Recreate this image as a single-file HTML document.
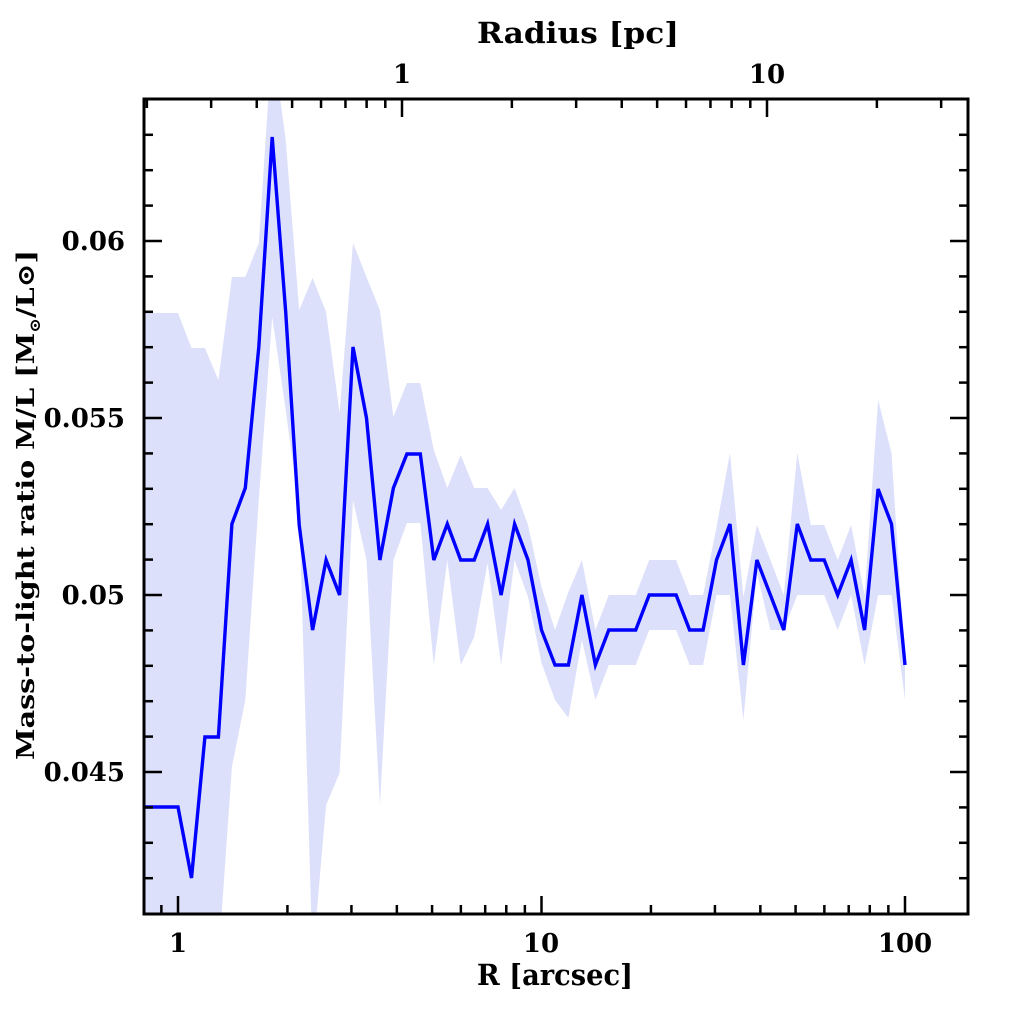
<!DOCTYPE html>
<html><head><meta charset="utf-8"><style>html,body{margin:0;padding:0;background:#fff}svg{display:block}
text{font-family:"DejaVu Serif","Liberation Serif",serif;font-weight:bold;fill:#000}</style></head>
<body>
<svg id="s" width="1024" height="1024" viewBox="0 0 1024 1024" xmlns="http://www.w3.org/2000/svg">
<defs><clipPath id="c"><rect x="144" y="99" width="824" height="815"/></clipPath></defs>
<g clip-path="url(#c)">
<polygon id="band" fill="#dde0fa"/>
<polyline id="line" fill="none" stroke="#0000ff" stroke-width="3.4" stroke-linejoin="miter"/>
</g>
<g id="ticks" stroke="#000" stroke-width="2.5"></g>
<rect x="144" y="99" width="824" height="815" fill="none" stroke="#000" stroke-width="3"/>
<g font-size="26">
<text x="125" y="250" text-anchor="end">0.06</text>
<text x="125" y="427" text-anchor="end">0.055</text>
<text x="125" y="604" text-anchor="end">0.05</text>
<text x="125" y="781" text-anchor="end">0.045</text>
<text x="178" y="952" text-anchor="middle">1</text>
<text x="541" y="952" text-anchor="middle">10</text>
<text x="905" y="952" text-anchor="middle">100</text>
<text x="402" y="83" text-anchor="middle">1</text>
<text x="767" y="83" text-anchor="middle">10</text>
<text x="477" y="43" textLength="202" lengthAdjust="spacingAndGlyphs" font-size="29">Radius [pc]</text>
<text x="477" y="985" textLength="156" lengthAdjust="spacingAndGlyphs" font-size="29">R [arcsec]</text>
<text transform="translate(34,505) rotate(-90)" text-anchor="middle" font-size="24" textLength="510" lengthAdjust="spacingAndGlyphs">Mass-to-light ratio M/L [M<tspan font-size="15" dy="6">⊙</tspan><tspan dy="-6">/L⊙]</tspan></text>
</g>
</svg>
<script>
var ly=[807,878,737,737,524,488,347,137,312,525,630,560,595,347,418,560,488,454,454,560,524,560,560,524,595,524,560,630,665,665,595,665,630,630,630,595,595,595,630,630,560,524,665,560,595,630,524,560,560,595,560,630,489,524,665];
var up=[313,348,348,380,277,277,243,40,140,310,278,312,413,243,277,310,417,383,383,450,488,455,488,488,510,488,525,587,630,592,560,630,595,595,595,560,560,560,595,595,527,453,597,525,560,595,453,525,525,560,525,595,400,453,663];
var lo=[960,960,960,960,767,700,500,317,410,510,960,805,773,500,560,805,560,523,523,665,560,665,637,563,665,560,597,663,700,718,640,700,665,665,665,630,630,630,665,665,595,595,720,573,630,630,595,595,595,630,595,665,595,595,700];
function X(k){return 178+13.463*k}
var L=["144,807"],U=["144,313"],D=["144,960"];
for(var k=0;k<55;k++){L.push(X(k).toFixed(1)+","+ly[k]);U.push(X(k).toFixed(1)+","+up[k]);D.push(X(k).toFixed(1)+","+lo[k]);}
document.getElementById("line").setAttribute("points",L.join(" "));
document.getElementById("band").setAttribute("points",U.concat(D.reverse()).join(" "));
var t="";
function ln(a,b,c,d){t+='<line x1="'+a+'" y1="'+b+'" x2="'+c+'" y2="'+d+'"/>';}
for(var v=41;v<=64;v++){var y=595-(v-50)*35.4;if(y<100||y>913)continue;var M=(v%5==0)?18:9;ln(144,y,144+M,y);ln(968,y,968-M,y);}
for(var e=-1;e<=2;e++)for(var m=1;m<10;m++){var x=178+363.5*(e+Math.log10(m));if(x<146||x>966)continue;var M=(m==1)?18:9;ln(x,914,x,914-M);}
for(var e=-1;e<=1;e++)for(var m=1;m<10;m++){var x=402+365*(e+Math.log10(m));if(x<146||x>966)continue;var M=(m==1)?18:9;ln(x,99,x,99+M);}
document.getElementById("ticks").innerHTML=t;
</script>
</body></html>
